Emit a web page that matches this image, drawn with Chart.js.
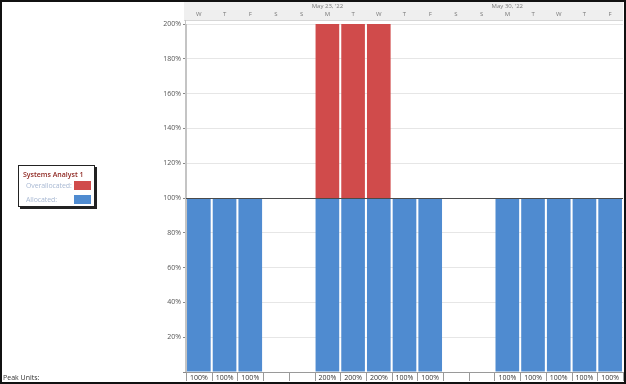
<!DOCTYPE html>
<html>
<head>
<meta charset="utf-8">
<script src="https://cdn.jsdelivr.net/npm/chart.js@4/dist/chart.umd.min.js"></script>
<style>
  html, body { margin: 0; padding: 0; background: #fff; }
  #wrap { position: relative; width: 626px; height: 384px; overflow: hidden; }
  canvas { position: absolute; left: 0; top: 0; }
  #legend { position: absolute; left: 18px; top: 165px; width: 75px; height: 40px;
    background: #fff; border: 1px solid #222; box-shadow: 2px 2px 0 #222;
    font-family: "Open Sans", "Noto Sans", sans-serif; font-size: 7px; }
  #legend .title { position: absolute; left: 4px; top: 4px; color: #8e2620; font-weight: 600; white-space: nowrap; }
  #legend .lab { position: absolute; left: 7px; color: #a9b9d3; white-space: nowrap; letter-spacing: -0.1px; }
  #legend .sw { position: absolute; left: 55px; width: 17px; height: 9px; }
</style>
</head>
<body>
<div id="wrap">
  <canvas id="c" width="626" height="384"></canvas>
  <div id="legend">
    <div class="title">Systems Analyst 1</div>
    <div class="lab" style="top:15px">Overallocated:</div>
    <div class="sw" style="top:15px;background:#d04b4b"></div>
    <div class="lab" style="top:29px">Allocated:</div>
    <div class="sw" style="top:29px;background:#4f8bd0"></div>
  </div>
</div>
<script>
const days = ['W','T','F','S','S','M','T','W','T','F','S','S','M','T','W','T','F'];
const weekStartIndex = [5, 12];
const weekLabels = ["May 23, '22", "May 30, '22"];
const allocated = [100,100,100,0,0,100,100,100,100,100,0,0,100,100,100,100,100];
const overallocated = [0,0,0,0,0,100,100,100,0,0,0,0,0,0,0,0,0];
const peakUnits = ['100%','100%','100%','','','200%','200%','200%','100%','100%','','','100%','100%','100%','100%','100%'];
const yTickValues = [0,20,40,60,80,100,120,140,160,180,200];

const FONT = '"Open Sans", "Noto Sans", sans-serif';

const decor = {
  id: 'decor',
  beforeDraw(chart) {
    const ctx = chart.ctx, a = chart.chartArea;
    ctx.save();
    ctx.fillStyle = '#fff';
    ctx.fillRect(0, 0, chart.width, chart.height);
    ctx.fillStyle = '#efefef';
    ctx.fillRect(a.left - 2, 2, a.right - a.left + 2, 18);
    ctx.strokeStyle = '#d6d6d6';
    ctx.lineWidth = 1;
    ctx.beginPath();
    ctx.moveTo(a.left - 2, 20.5); ctx.lineTo(a.right, 20.5);
    ctx.stroke();
    ctx.restore();
  },
  afterDatasetsDraw(chart) {
    const ctx = chart.ctx, a = chart.chartArea, x = chart.scales.x, y = chart.scales.y;
    ctx.save();
    const y100 = Math.round(y.getPixelForValue(100)) + 0.5;
    ctx.strokeStyle = '#4a4a4a';
    ctx.lineWidth = 1;
    ctx.beginPath(); ctx.moveTo(a.left, y100); ctx.lineTo(a.right, y100); ctx.stroke();
    ctx.strokeStyle = '#c4c4c4';
    ctx.beginPath(); ctx.moveTo(a.left - 0.5, 20); ctx.lineTo(a.left - 0.5, a.bottom); ctx.stroke();

    const n = days.length;
    const w = (a.right - a.left) / n;
    ctx.fillStyle = '#7a7a7a';
    ctx.font = '6px ' + FONT;
    ctx.textAlign = 'center';
    ctx.textBaseline = 'middle';
    days.forEach((d, i) => ctx.fillText(d, x.getPixelForValue(i), 14));
    weekStartIndex.forEach((idx, k) => ctx.fillText(weekLabels[k], x.getPixelForValue(idx), 6.5));

    const rowTop = a.bottom, rowBot = a.bottom + 9;
    ctx.strokeStyle = '#9a9a9a';
    ctx.beginPath();
    ctx.moveTo(a.left, rowTop + 0.5); ctx.lineTo(a.right, rowTop + 0.5);
    for (let i = 0; i <= n; i++) {
      const px = Math.round(a.left + i * w) + 0.5;
      ctx.moveTo(px, rowTop); ctx.lineTo(px, rowBot);
    }
    ctx.stroke();
    ctx.fillStyle = '#333';
    ctx.font = '7px ' + FONT;
    peakUnits.forEach((t, i) => { if (t) ctx.fillText(t, x.getPixelForValue(i), rowTop + 5.5); });
    ctx.textAlign = 'left';
    ctx.fillText('Peak Units:', 3, rowTop + 5.5);

    ctx.strokeStyle = '#111';
    ctx.lineWidth = 2;
    ctx.strokeRect(1, 1, chart.width - 2, chart.height - 2);
    ctx.restore();
  }
};

new Chart(document.getElementById('c'), {
  type: 'bar',
  data: {
    labels: days,
    datasets: [
      { label: 'Allocated', data: allocated, backgroundColor: '#4f8bd0', borderWidth: 0,
        barPercentage: 0.92, categoryPercentage: 1 },
      { label: 'Overallocated', data: overallocated, backgroundColor: '#d04b4b', borderWidth: 0,
        barPercentage: 0.92, categoryPercentage: 1 }
    ]
  },
  options: {
    responsive: false,
    devicePixelRatio: 1,
    animation: false,
    layout: { padding: { top: 24, bottom: 12, left: 0, right: 3 } },
    plugins: { legend: { display: false }, tooltip: { enabled: false } },
    scales: {
      x: { stacked: true, display: false },
      y: {
        stacked: true, min: 0, max: 200,
        afterBuildTicks(s) { s.ticks = yTickValues.map(v => ({ value: v })); },
        afterFit(s) { s.width = 186; },
        ticks: {
          callback: v => v === 0 ? '' : v + '%',
          color: '#555', padding: 2,
          font: { family: FONT, size: 7 }
        },
        grid: { color: '#e6e6e6', tickColor: '#888', tickLength: 3 },
        border: { display: true, color: '#c4c4c4' }
      }
    }
  },
  plugins: [decor]
});
</script>
</body>
</html>
